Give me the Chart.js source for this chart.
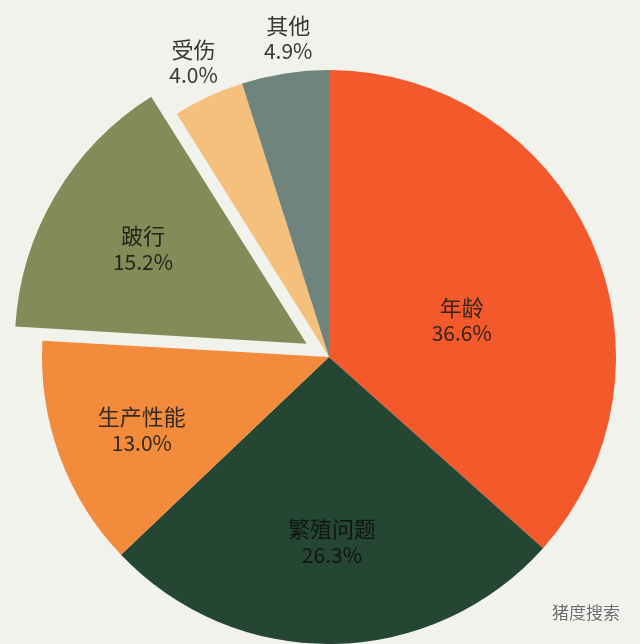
<!DOCTYPE html>
<html>
<head>
<meta charset="utf-8">
<script src="https://cdn.jsdelivr.net/npm/chart.js@4.4.1/dist/chart.umd.min.js"></script>
<style>
    html, body { margin: 0; padding: 0; background: #f1f2ec; }
    #wrap { position: relative; width: 640px; height: 644px; }
    #brand {
        position: absolute; right: 20px; bottom: 20px;
        font: 17px "Noto Sans CJK SC", sans-serif; color: #6b6b6b;
        text-shadow: 0 0 2px #fff, 0 0 2px #fff;
    }
</style>
</head>
<body>
<div id="wrap">
    <canvas id="pieChart" width="640" height="644"></canvas>
    <div id="brand">猪度搜索</div>
</div>
<script>
// Data (clockwise from 12 o'clock)
const categories = ['年龄', '繁殖问题', '生产性能', '跛行', '受伤', '其他'];
const shares = [36.6, 26.3, 13.0, 15.2, 4.0, 4.9];

// Styles
const sliceColors = ['#f4592c', '#264634', '#f38b3d', '#858b58', '#f5c07c', '#6f847c'];
// Chart.js moves an arc by offset / 4, so 104 gives a ~26px pull-out
const sliceOffsets = [0, 0, 0, 104, 0, 0];
const textColors = ['#34241e', '#101610', '#352a22', '#22261a', '#383838', '#383838'];
// label placement: angle (deg, clockwise from top) and radius as fraction of outer radius
const labelAngles = [74.5, 179.1, 248.7, 300.2, 335.3, 352.7];
const labelRadii = [0.48, 0.645, 0.70, 0.75, 1.13, 1.12];

const labelPlugin = {
    id: 'sliceLabels',
    afterDatasetsDraw(chart) {
        const { ctx } = chart;
        const arcs = chart.getDatasetMeta(0).data;
        ctx.save();
        ctx.textAlign = 'center';
        ctx.textBaseline = 'middle';
        arcs.forEach((arc, i) => {
            const a = labelAngles[i] * Math.PI / 180;
            const r = arc.outerRadius * labelRadii[i];
            const x = arc.x + Math.sin(a) * r;
            const y = arc.y - Math.cos(a) * r;
            ctx.fillStyle = textColors[i];
            ctx.font = '22px "Noto Sans CJK SC", sans-serif';
            ctx.fillText(categories[i], x, y - 13);
            ctx.font = '21px "Noto Sans CJK SC", sans-serif';
            ctx.fillText(shares[i].toFixed(1) + '%', x, y + 13);
        });
        ctx.restore();
    }
};

const pieCtx = document.getElementById('pieChart');
new Chart(pieCtx, {
    type: 'pie',
    data: {
        labels: categories,
        datasets: [{
            data: shares,
            backgroundColor: sliceColors,
            offset: sliceOffsets,
            borderWidth: 0,
            clip: false
        }]
    },
    options: {
        responsive: false,
        animation: false,
        radius: 287,
        layout: { padding: { left: 18, right: 0, top: 70, bottom: 0 } },
        plugins: {
            legend: { display: false },
            tooltip: { enabled: false }
        }
    },
    plugins: [labelPlugin]
});
</script>
</body>
</html>
